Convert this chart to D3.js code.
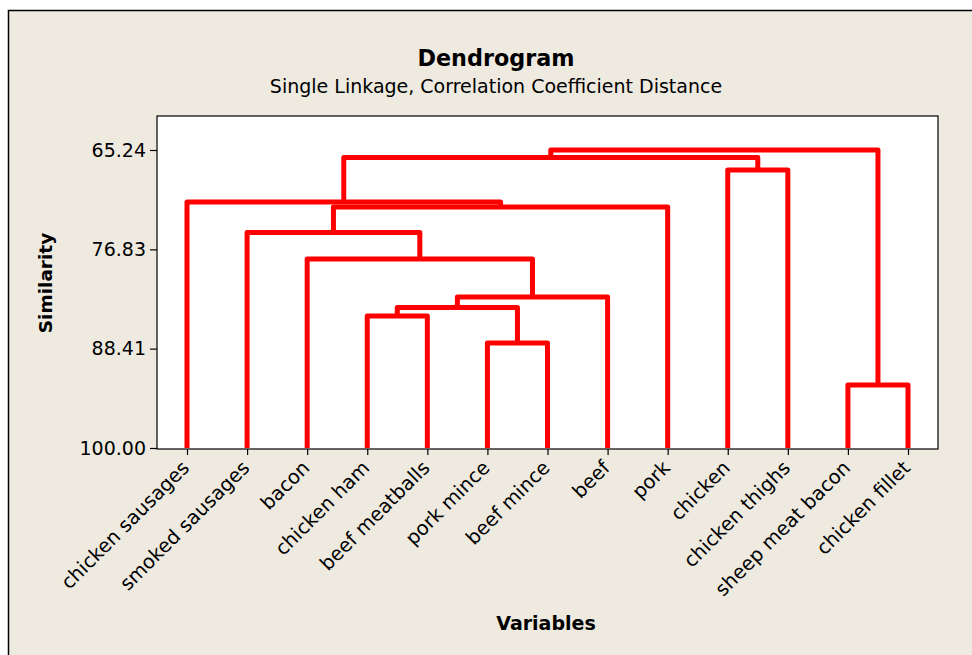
<!DOCTYPE html>
<html>
<head>
<meta charset="utf-8">
<script src="https://cdn.jsdelivr.net/npm/d3@7"></script>
<style>
  body { margin: 0; background: #fff; }
  text { font-family: "DejaVu Sans", sans-serif; fill: #000; }
</style>
</head>
<body>
<script>
// leaves in display order
var leaves = ["chicken sausages", "smoked sausages", "bacon", "chicken ham",
              "beef meatballs", "pork mince", "beef mince", "beef", "pork",
              "chicken", "chicken thighs", "sheep meat bacon", "chicken fillet"];

// merges: left child, right child, similarity (children are leaf names or merge ids)
var mergeLeft  = ["pork mince", "chicken ham", "m1", "m3", "bacon", "smoked sausages", "m6", "chicken sausages", "sheep meat bacon", "chicken", "m8", "m11"];
var mergeRight = ["beef mince", "beef meatballs", "m2", "beef", "m4", "m5", "pork", "m7", "chicken fillet", "chicken thighs", "m10", "m9"];
var mergeSim   = [87.75, 84.60, 83.61, 82.39, 77.95, 74.86, 71.89, 71.31, 92.65, 67.57, 66.11, 65.24];

var yTicks = [65.24, 76.83, 88.41, 100.00];

var W = 972, H = 655;
var plot = {left: 157, top: 116, right: 938, bottom: 449};

var svg = d3.select("body").append("svg")
  .attr("width", W).attr("height", H);

// background + frame
svg.append("rect").attr("x", 8.5).attr("y", 10.5)
  .attr("width", W).attr("height", H)
  .attr("fill", "#EEEAE0").attr("stroke", "#000").attr("stroke-width", 1.5);

svg.append("rect")
  .attr("x", plot.left).attr("y", plot.top)
  .attr("width", plot.right - plot.left).attr("height", plot.bottom - plot.top)
  .attr("fill", "#fff").attr("stroke", "#000").attr("stroke-width", 1.2);

var x = d3.scalePoint().domain(leaves).range([187, 908]);
var y = d3.scaleLinear().domain([65.24, 100]).range([150, 448]);

// node positions
var pos = {};
leaves.forEach(function(l) { pos[l] = {x: x(l), y: y(100)}; });
var lines = [];
for (var i = 0; i < mergeSim.length; i++) {
  var a = pos[mergeLeft[i]], b = pos[mergeRight[i]];
  var hy = y(mergeSim[i]);
  lines.push([[a.x, a.y], [a.x, hy], [b.x, hy], [b.x, b.y]]);
  pos["m" + (i + 1)] = {x: (a.x + b.x) / 2, y: hy};
}

svg.append("g").selectAll("path")
  .data(lines).enter().append("path")
  .attr("d", d3.line())
  .attr("fill", "none")
  .attr("stroke", "#FF0000")
  .attr("stroke-width", 5)
  .attr("stroke-linejoin", "round");

// axes
var yAxis = d3.axisLeft(y).tickValues(yTicks).tickFormat(d3.format(".2f")).tickSize(7).tickSizeOuter(0);
var gy = svg.append("g").attr("transform", "translate(" + plot.left + ",0)").call(yAxis);
gy.select(".domain").remove();
gy.selectAll("text").attr("font-size", 19).attr("dx", "-1").attr("fill", "#000");
gy.selectAll("line").attr("stroke", "#000").attr("stroke-width", 1.2);

var xAxis = d3.axisBottom(x).tickSize(6).tickSizeOuter(0);
var gx = svg.append("g").attr("transform", "translate(0," + plot.bottom + ")").call(xAxis);
gx.select(".domain").remove();
gx.selectAll("line").attr("stroke", "#000").attr("stroke-width", 1.2);
gx.selectAll("text")
  .attr("font-size", 19.5).attr("fill", "#000")
  .style("text-anchor", "end")
  .attr("x", 0).attr("y", 0).attr("dy", 0)
  .attr("transform", "translate(3,20) rotate(-45)");

// titles
svg.append("text").attr("x", 496).attr("y", 66)
  .attr("text-anchor", "middle").attr("font-size", 22.3).attr("font-weight", "bold")
  .text("Dendrogram");
svg.append("text").attr("x", 496).attr("y", 93)
  .attr("text-anchor", "middle").attr("font-size", 19)
  .text("Single Linkage, Correlation Coefficient Distance");

svg.append("text")
  .attr("transform", "translate(52,283) rotate(-90)")
  .attr("text-anchor", "middle").attr("font-size", 18.5).attr("font-weight", "bold")
  .text("Similarity");

svg.append("text").attr("x", 546).attr("y", 630)
  .attr("text-anchor", "middle").attr("font-size", 19).attr("font-weight", "bold")
  .text("Variables");
</script>
</body>
</html>
